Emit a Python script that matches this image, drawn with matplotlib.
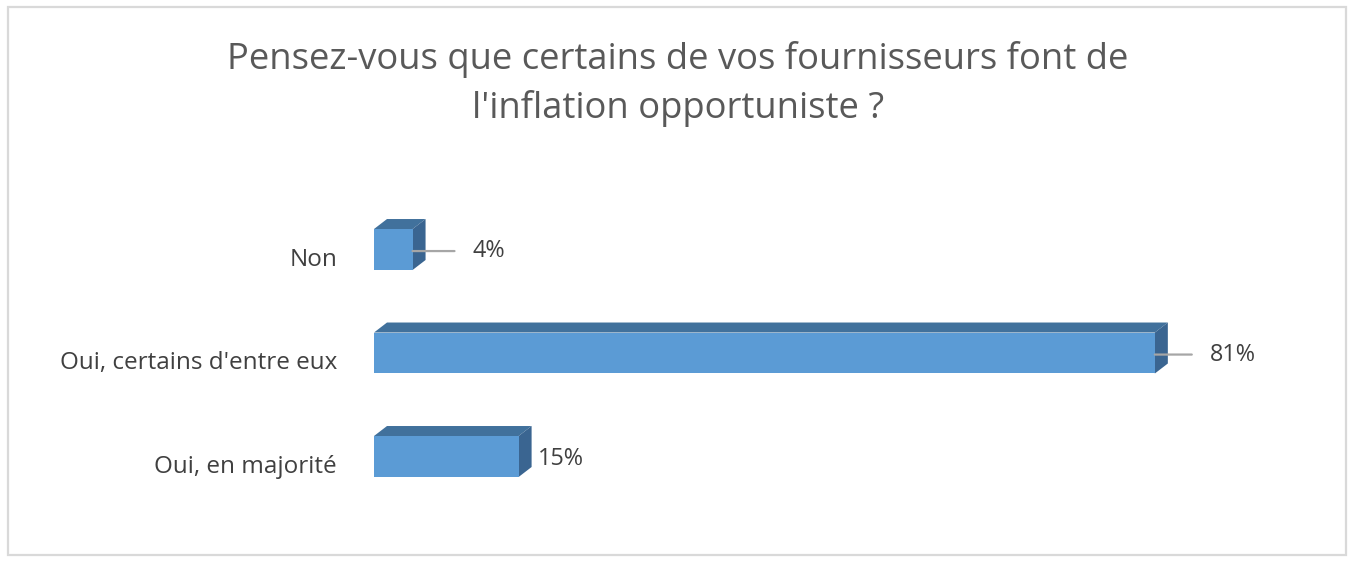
import matplotlib
matplotlib.use('Agg')
import matplotlib.pyplot as plt
from matplotlib.patches import Polygon, Rectangle

categories = ['Non', "Oui, certains d'entre eux", 'Oui, en majorité']
values = [4, 81, 15]
labels = ['4%', '81%', '15%']
title = "Pensez-vous que certains de vos fournisseurs font de\nl'inflation opportuniste ?"

plt.rcParams['font.family'] = ['Open Sans', 'DejaVu Sans']

fig = plt.figure(figsize=(13.56, 5.62), dpi=100)
fig.patch.set_facecolor('white')

# cadre gris autour du graphique
fig.patches.append(Rectangle((8 / 1356, 7 / 562), 1338 / 1356, 548 / 562,
                             transform=fig.transFigure, fill=False,
                             edgecolor='#d9d9d9', lw=1.6))

ax = fig.add_axes([374 / 1356, (562 - 518.6) / 562, 964 / 1356, 0.5893])
ax.set_xlim(0, 100)
ax.set_ylim(-0.6, 2.6)
ax.axis('off')

front = '#5b9bd5'
top = '#41719c'
side = '#3a6591'
h = 0.396
dx = 13 / 9.64
dy = 10 / 103.5

ypos = [2, 1, 0]
ax.barh(ypos, values, height=h, color=front, zorder=3)
for y, v in zip(ypos, values):
    yt = y + h / 2
    yb = y - h / 2
    ax.add_patch(Polygon([(0, yt), (v, yt), (v + dx, yt + dy), (dx, yt + dy)],
                         closed=True, facecolor=top, edgecolor='none', zorder=2))
    ax.add_patch(Polygon([(v, yt), (v + dx, yt + dy), (v + dx, yb + dy), (v, yb)],
                         closed=True, facecolor=side, edgecolor='none', zorder=2))

# étiquettes de catégories
for y, c in zip(ypos, categories):
    ax.annotate(c, xy=(0, y - dy), xytext=(-37, 0), textcoords='offset pixels',
                ha='right', va='center', fontsize=17.5, color='#404040')

# étiquettes de valeurs avec lignes de rappel
offsets = [60, 55, 19]
for y, v, lab, off in zip(ypos, values, labels, offsets):
    if off > 30:
        ax.annotate(lab, xy=(v, y - 0.015), xytext=(off, 0), textcoords='offset pixels',
                    ha='left', va='center', fontsize=16.8, color='#404040',
                    arrowprops=dict(arrowstyle='-', color='#a6a6a6', lw=1.6,
                                    shrinkA=11, shrinkB=0))
    else:
        ax.annotate(lab, xy=(v, y - 0.02), xytext=(off, 0), textcoords='offset pixels',
                    ha='left', va='center', fontsize=16.8, color='#404040')

fig.text(0.5, 1 - 84 / 562, title, ha='center', va='center', fontsize=26.2,
         color='#595959', linespacing=1.45)

fig.savefig('out.png', dpi=100, facecolor='white')
